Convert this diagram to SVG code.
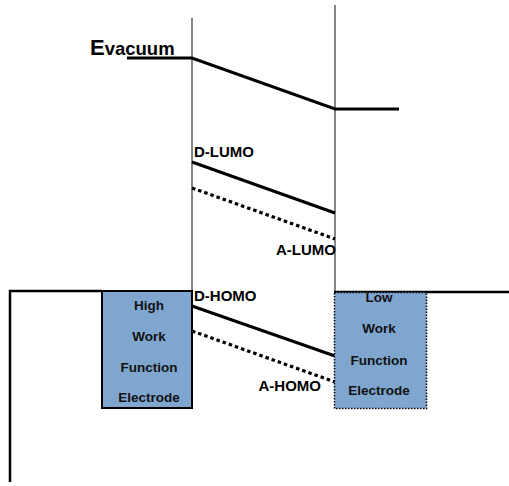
<svg xmlns="http://www.w3.org/2000/svg" width="509" height="486" viewBox="0 0 509 486">
<style>
.lvl{stroke:#000;stroke-width:3;fill:none}
.dot{stroke:#000;stroke-width:3.2;fill:none;stroke-dasharray:3.5 3}
.wall{stroke:#444;stroke-width:1.3}
.frame{stroke:#000;stroke-width:2.5;fill:none}
.lbl{font-family:"Liberation Sans",Arial,sans-serif;font-weight:bold;font-size:15px;fill:#000}
.big{font-size:22px}
.sub{font-size:18.5px}
.etxt{font-family:"Liberation Sans",Arial,sans-serif;font-weight:bold;font-size:13.5px;fill:#111;text-anchor:middle}
.el{fill:#7fa6cf}
</style>
<rect width="509" height="486" fill="#fff"/>
<g id="connectors">
  <line class="wall" x1="192" y1="18" x2="192" y2="292"/>
  <line class="wall" x1="335" y1="5" x2="335" y2="292"/>
  <polyline class="frame" points="10,482 10,291 102,291"/>
  <line class="frame" x1="334" y1="292" x2="509" y2="292"/>
  <polyline id="evac" class="lvl" points="127,58 192,58 335,109 399,109"/>
  <line id="dlumo" class="lvl" x1="192" y1="162" x2="335" y2="213"/>
  <line id="alumo" class="dot" x1="192" y1="188" x2="335" y2="239"/>
  <line id="dhomo" class="lvl" x1="192" y1="306" x2="335" y2="356"/>
  <line id="ahomo" class="dot" x1="192" y1="331" x2="335" y2="382"/>
</g>
<g id="evac-label">
  <text class="lbl big" x="90" y="55">E<tspan class="sub">vacuum</tspan></text>
</g>
<g id="dlumo-label"><text class="lbl" x="194" y="157">D-LUMO</text></g>
<g id="alumo-label"><text class="lbl" x="336" y="255" text-anchor="end">A-LUMO</text></g>
<g id="dhomo-label"><text class="lbl" x="194" y="301">D-HOMO</text></g>
<g id="ahomo-label"><text class="lbl" x="321" y="391" text-anchor="end">A-HOMO</text></g>
<g id="high-wf-electrode">
  <rect class="el" x="102" y="291" width="90" height="117" stroke="#000" stroke-width="2"/>
  <text class="etxt" x="149" y="310">High</text>
  <text class="etxt" x="149" y="341">Work</text>
  <text class="etxt" x="149" y="372">Function</text>
  <text class="etxt" x="149" y="402">Electrode</text>
</g>
<g id="low-wf-electrode">
  <rect class="el" x="334.5" y="292.5" width="92" height="116" stroke="#000" stroke-width="1.5" stroke-dasharray="1.5 1.5"/>
  <text class="etxt" x="379" y="302">Low</text>
  <text class="etxt" x="379" y="333">Work</text>
  <text class="etxt" x="379" y="365">Function</text>
  <text class="etxt" x="379" y="395">Electrode</text>
</g>
</svg>
